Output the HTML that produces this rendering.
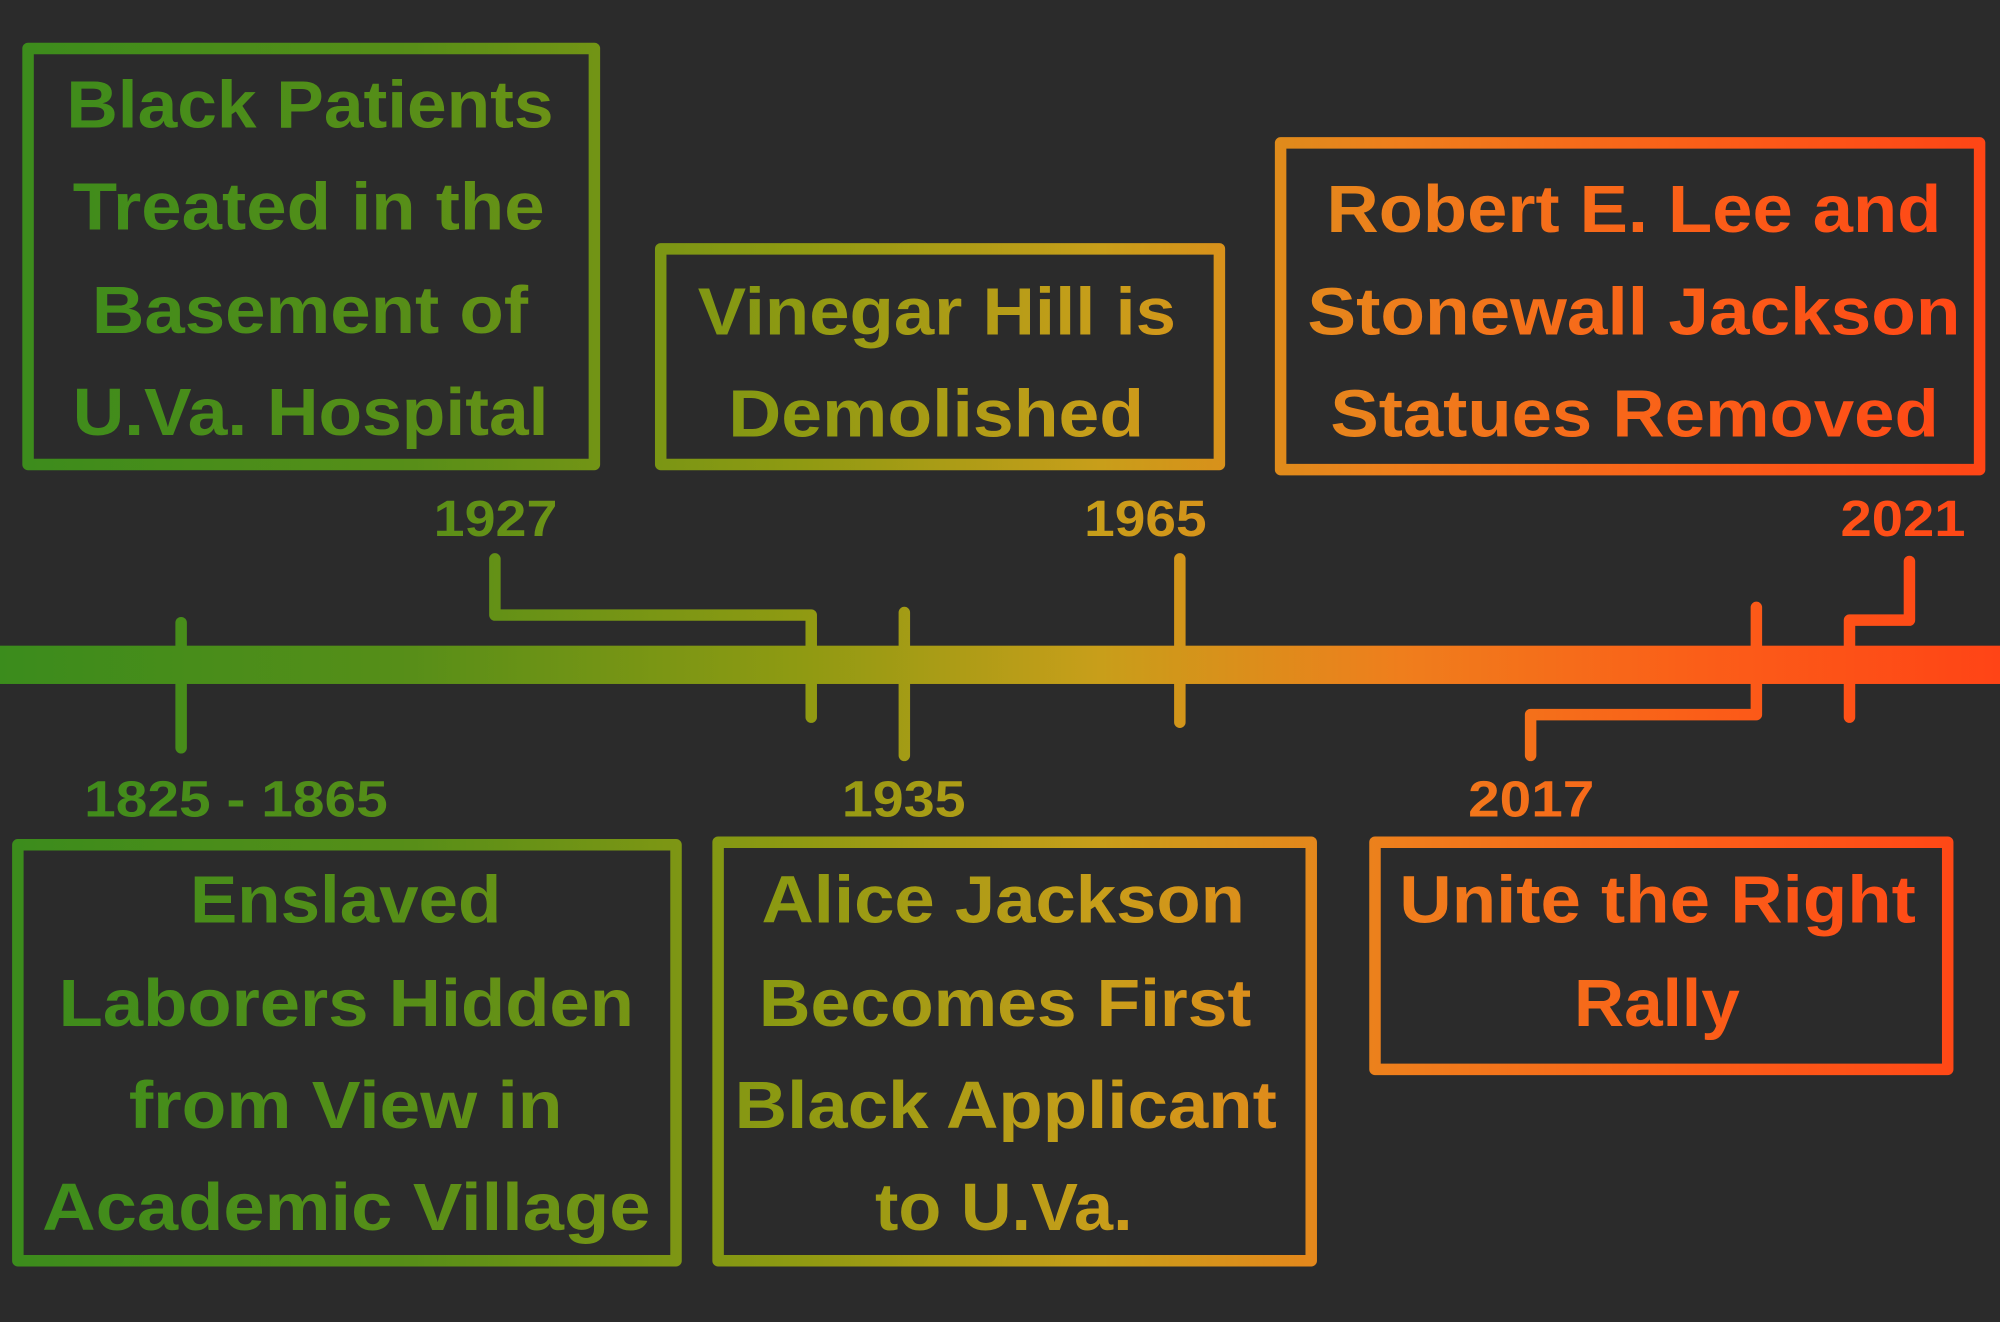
<!DOCTYPE html>
<html><head><meta charset="utf-8"><style>
html,body{margin:0;padding:0;background:#2b2b2b;}
svg{display:block}
text{font-family:"Liberation Sans",sans-serif;font-weight:bold;text-anchor:start}
</style></head><body>
<svg width="2000" height="1322" viewBox="0 0 1568 1036" preserveAspectRatio="none" xmlns="http://www.w3.org/2000/svg">
<defs>
<linearGradient id="g" gradientUnits="userSpaceOnUse" x1="0" y1="0" x2="1568" y2="0">
<stop offset="0" stop-color="#3b8c1c"/>
<stop offset="0.2" stop-color="#568e18"/>
<stop offset="0.4" stop-color="#8f9a12"/>
<stop offset="0.55" stop-color="#c89e1a"/>
<stop offset="0.7" stop-color="#ef7e1c"/>
<stop offset="0.85" stop-color="#fb5e18"/>
<stop offset="1" stop-color="#ff4416"/>
</linearGradient>
</defs>
<rect width="1568" height="1036" fill="#2b2b2b"/>
<g fill="none" stroke="url(#g)" stroke-width="9" stroke-linejoin="round" stroke-linecap="round">
<rect x="22" y="38" width="444" height="326"/>
<rect x="518" y="195" width="438" height="169"/>
<rect x="1004" y="112" width="548" height="256"/>
<rect x="14" y="662" width="516" height="326"/>
<rect x="563" y="660" width="465" height="328"/>
<rect x="1078" y="660" width="449" height="178"/>
<path d="M142 488V586"/>
<path d="M388 438V482H636V562"/>
<path d="M709 480V592"/>
<path d="M925 438V566"/>
<path d="M1377 476V560H1200V592"/>
<path d="M1497 440V486H1450V562"/>
</g>
<rect x="0" y="506" width="1568" height="30" fill="url(#g)"/>
<g fill="url(#g)" font-size="52">
<text x="52" y="100" textLength="382" lengthAdjust="spacingAndGlyphs">Black Patients</text>
<text x="57" y="180" textLength="370" lengthAdjust="spacingAndGlyphs">Treated in the</text>
<text x="72" y="261" textLength="342" lengthAdjust="spacingAndGlyphs">Basement of</text>
<text x="57" y="341" textLength="373" lengthAdjust="spacingAndGlyphs">U.Va. Hospital</text>
<text x="547" y="262" textLength="375" lengthAdjust="spacingAndGlyphs">Vinegar Hill is</text>
<text x="571" y="342" textLength="326" lengthAdjust="spacingAndGlyphs">Demolished</text>
<text x="1040" y="182" textLength="482" lengthAdjust="spacingAndGlyphs">Robert E. Lee and</text>
<text x="1025" y="262" textLength="512" lengthAdjust="spacingAndGlyphs">Stonewall Jackson</text>
<text x="1043" y="342" textLength="477" lengthAdjust="spacingAndGlyphs">Statues Removed</text>
<text x="149" y="723" textLength="244" lengthAdjust="spacingAndGlyphs">Enslaved</text>
<text x="46" y="804" textLength="451" lengthAdjust="spacingAndGlyphs">Laborers Hidden</text>
<text x="101" y="884" textLength="340" lengthAdjust="spacingAndGlyphs">from View in</text>
<text x="33" y="964" textLength="477" lengthAdjust="spacingAndGlyphs">Academic Village</text>
<text x="597" y="723" textLength="379" lengthAdjust="spacingAndGlyphs">Alice Jackson</text>
<text x="595" y="804" textLength="386" lengthAdjust="spacingAndGlyphs">Becomes First</text>
<text x="576" y="884" textLength="425" lengthAdjust="spacingAndGlyphs">Black Applicant</text>
<text x="686" y="964" textLength="202" lengthAdjust="spacingAndGlyphs">to U.Va.</text>
<text x="1097" y="723" textLength="405" lengthAdjust="spacingAndGlyphs">Unite the Right</text>
<text x="1234" y="804" textLength="130" lengthAdjust="spacingAndGlyphs">Rally</text>
</g>
<g fill="url(#g)" font-size="40">
<text x="340" y="420" textLength="97" lengthAdjust="spacingAndGlyphs">1927</text>
<text x="850" y="420" textLength="96" lengthAdjust="spacingAndGlyphs">1965</text>
<text x="1443" y="420" textLength="98" lengthAdjust="spacingAndGlyphs">2021</text>
<text x="66" y="640" textLength="238" lengthAdjust="spacingAndGlyphs">1825 - 1865</text>
<text x="660" y="640" textLength="97" lengthAdjust="spacingAndGlyphs">1935</text>
<text x="1151" y="640" textLength="99" lengthAdjust="spacingAndGlyphs">2017</text>
</g>
</svg>
</body></html>
